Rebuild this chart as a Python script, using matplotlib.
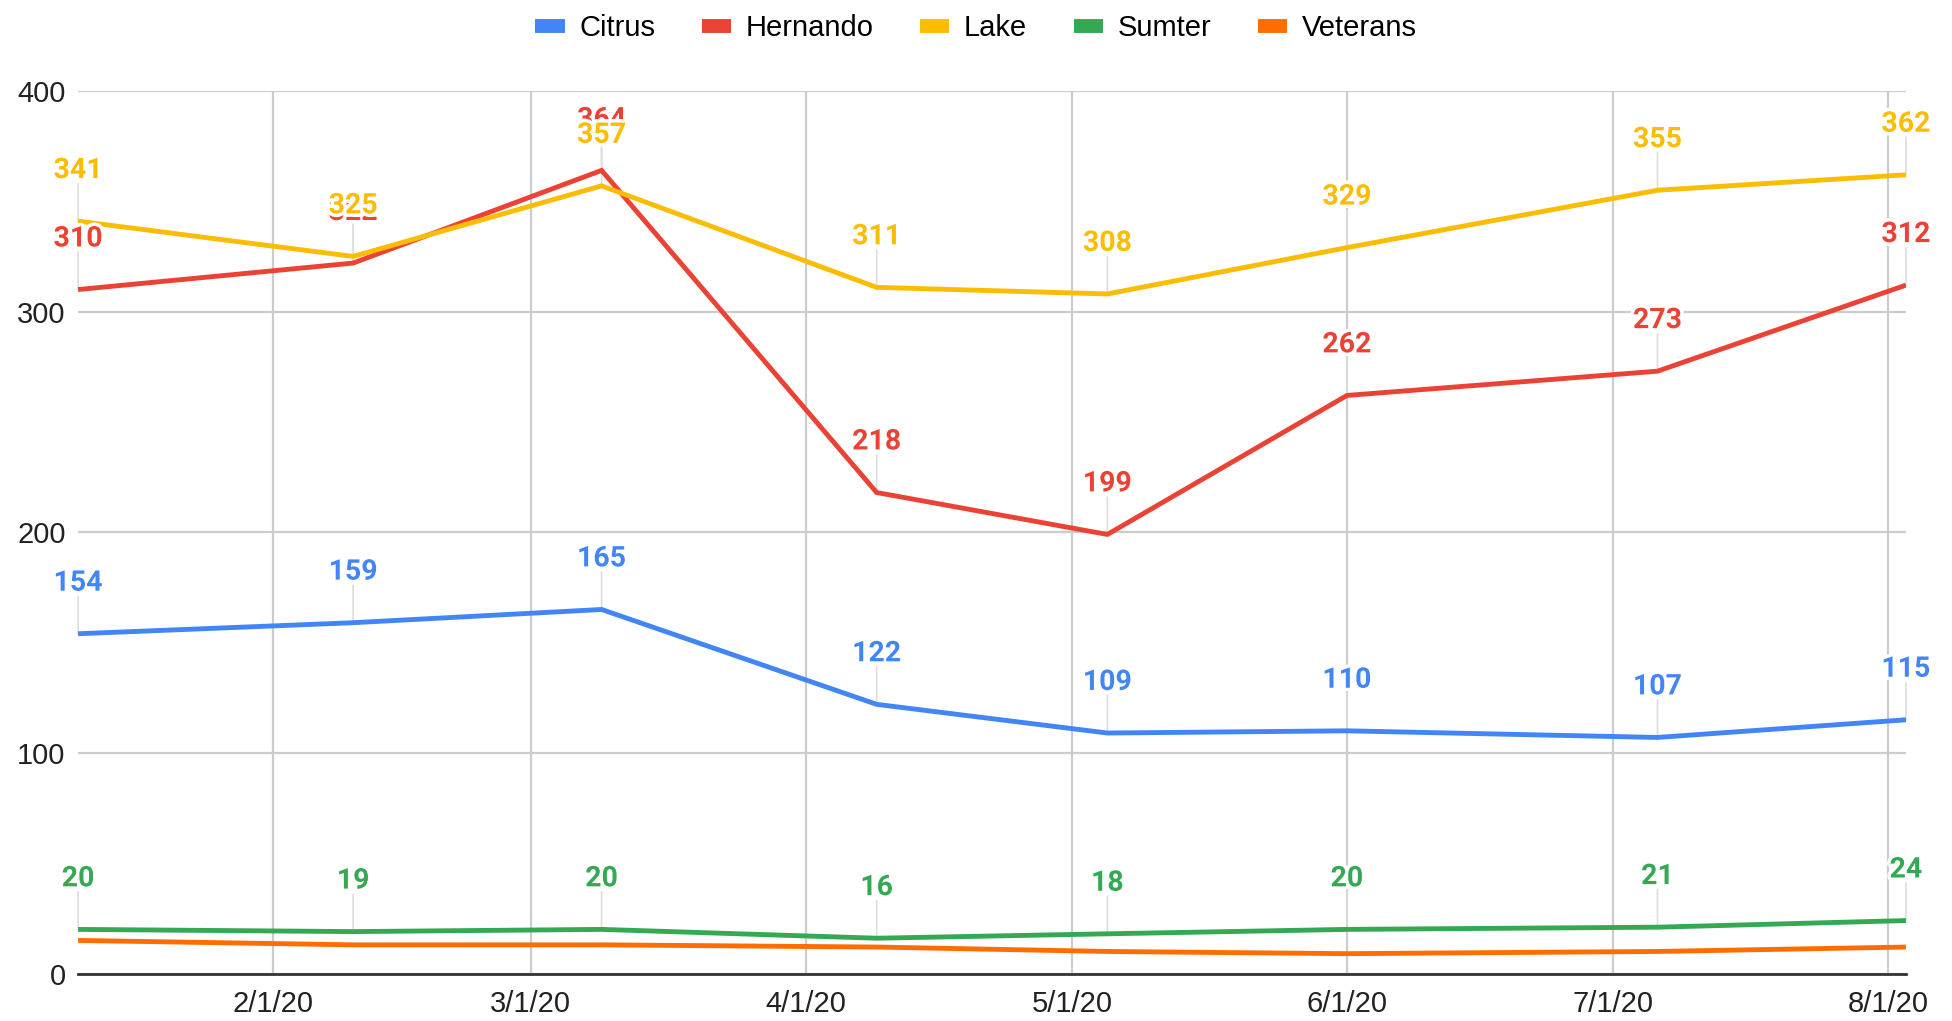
import numpy as np
import matplotlib
matplotlib.use("Agg")
import matplotlib.pyplot as plt
import matplotlib.patheffects as pe
from matplotlib.lines import Line2D

# data
dates = np.array(["2020-01-10", "2020-02-10", "2020-03-09", "2020-04-09",
                  "2020-05-05", "2020-06-01", "2020-07-06", "2020-08-03"],
                 dtype="datetime64[D]")
citrus = [154, 159, 165, 122, 109, 110, 107, 115]
hernando = [310, 322, 364, 218, 199, 262, 273, 312]
lake = [341, 325, 357, 311, 308, 329, 355, 362]
sumter = [20, 19, 20, 16, 18, 20, 21, 24]
veterans = [15, 13, 13, 12, 10, 9, 10, 12]

names = ["Citrus", "Hernando", "Lake", "Sumter", "Veterans"]
series = [citrus, hernando, lake, sumter, veterans]
colors = ["#4285F4", "#EA4335", "#FBBC04", "#34A853", "#FF6D01"]
labeled = [True, True, True, True, False]

tick_dates = np.array(["2020-02-01", "2020-03-01", "2020-04-01", "2020-05-01",
                       "2020-06-01", "2020-07-01", "2020-08-01"], dtype="datetime64[D]")
tick_labels = ["2/1/20", "3/1/20", "4/1/20", "5/1/20", "6/1/20", "7/1/20", "8/1/20"]

plt.rcParams['font.family'] = ['Liberation Sans', 'DejaVu Sans']

fig = plt.figure(figsize=(19.52, 10.21), dpi=100)
ax = fig.add_axes([0.04, 0.0465, 0.9364, 0.8644])

x = dates.astype(object)

# thin leader lines from each point up to its label
for vals, show in zip(series, labeled):
    if not show:
        continue
    for xi, v in zip(x, vals):
        ax.annotate("", xy=(xi, v), xytext=(0, 27), textcoords="offset points",
                    arrowprops=dict(arrowstyle="-", color="#dddddd", lw=1.2,
                                    shrinkA=0, shrinkB=0),
                    zorder=1.5, annotation_clip=False)

for vals, c, name in zip(series, colors, names):
    ax.plot(x, vals, color=c, lw=3.5, label=name, zorder=3,
            solid_capstyle="butt", solid_joinstyle="miter")

halo = [pe.withStroke(linewidth=5, foreground="white")]
for vals, c, show in zip(series, colors, labeled):
    if not show:
        continue
    for xi, v in zip(x, vals):
        ax.annotate(str(v), xy=(xi, v), xytext=(0, 31), textcoords="offset points",
                    ha="center", va="baseline", color=c, fontsize=20.5,
                    fontweight="bold", family="Roboto", path_effects=halo,
                    zorder=5, annotation_clip=False)

ax.set_xlim(x[0], x[-1])
ax.set_ylim(0, 400)
ax.set_yticks([0, 100, 200, 300, 400])
ax.set_xticks(tick_dates.astype(object))
ax.set_xticklabels(tick_labels)
ax.tick_params(axis="both", length=0, labelsize=21, colors="#222222")
ax.tick_params(axis="y", pad=9)
ax.tick_params(axis="x", pad=12)

ax.grid(True, color="#cccccc", lw=1.6, zorder=0)
ax.set_axisbelow(True)
for s in ["top", "right", "left"]:
    ax.spines[s].set_visible(False)
ax.spines["bottom"].set_color("#333333")
ax.spines["bottom"].set_linewidth(2)
ax.spines["bottom"].set_zorder(2)

handles = [Line2D([0], [0], color=c, lw=10, solid_capstyle="butt") for c in colors]
fig.legend(handles, names, loc="upper center", bbox_to_anchor=(0.5, 1.012),
           ncol=5, frameon=False, fontsize=21, handlelength=1.0,
           handletextpad=0.5, columnspacing=1.6)

plt.savefig("out.png", dpi=100)
